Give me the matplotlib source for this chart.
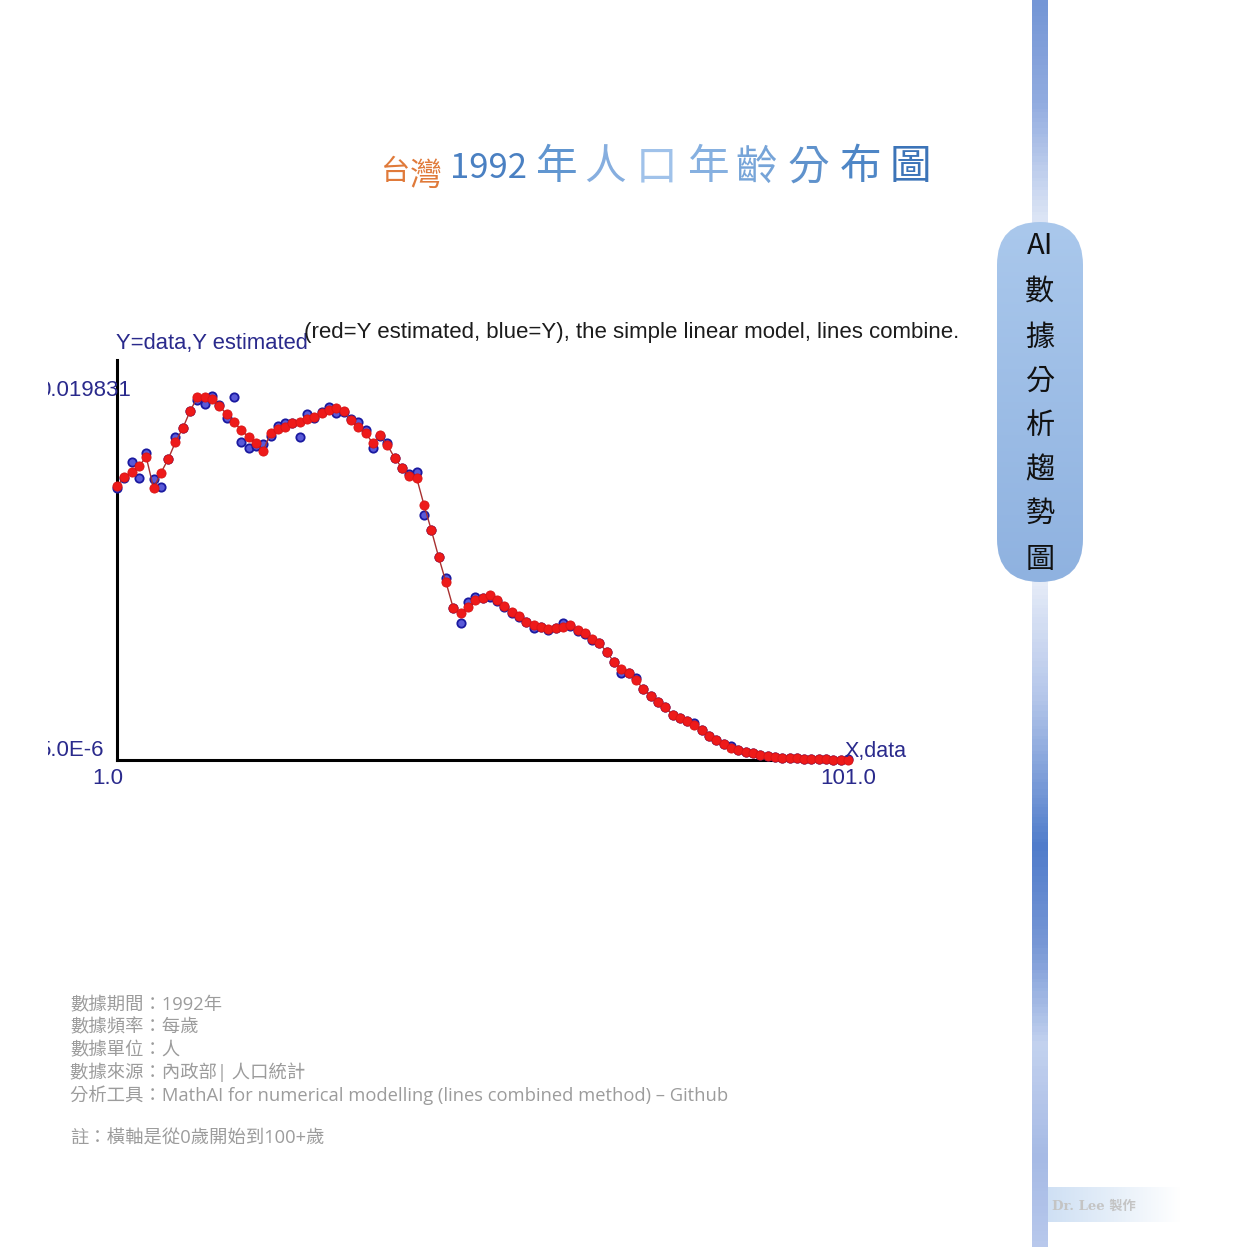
import numpy as np
import matplotlib
matplotlib.use("Agg")
import matplotlib.pyplot as plt
from matplotlib.patches import FancyBboxPatch, Rectangle
from matplotlib.colors import LinearSegmentedColormap

# ---------------- data ----------------
ages = list(range(1, 102))
y_data = [
    0.01486, 0.01540, 0.01628, 0.01540, 0.01677, 0.01535, 0.01491, 0.01644, 0.01764, 0.01813,
    0.01906, 0.01966, 0.01944, 0.01988, 0.01939, 0.01868, 0.01983, 0.01737, 0.01704, 0.01715,
    0.01726, 0.01770, 0.01824, 0.01841, 0.01841, 0.01764, 0.01890, 0.01868, 0.01901, 0.01928,
    0.01895, 0.01901, 0.01862, 0.01846, 0.01802, 0.01704, 0.01770, 0.01731, 0.01649, 0.01595,
    0.01562, 0.01573, 0.01338, 0.01256, 0.01109, 0.00994, 0.00830, 0.00748, 0.00863, 0.00890,
    0.00885, 0.00890, 0.00868, 0.00836, 0.00803, 0.00781, 0.00754, 0.00721, 0.00726, 0.00710,
    0.00721, 0.00748, 0.00732, 0.00705, 0.00688, 0.00655, 0.00639, 0.00590, 0.00535, 0.00475,
    0.00475, 0.00448, 0.00388, 0.00350, 0.00317, 0.00289, 0.00246, 0.00229, 0.00213, 0.00202,
    0.00164, 0.00131, 0.00109, 0.00087, 0.00076, 0.00055, 0.00044, 0.00038, 0.00027, 0.00022,
    0.00016, 0.00014, 0.00011, 0.00009, 0.00008, 0.00006, 0.00005, 0.00004, 0.00003, 0.00002,
    0.00004,
]
y_est = [
    0.01497, 0.01546, 0.01573, 0.01606, 0.01655, 0.01486, 0.01568, 0.01644, 0.01737, 0.01813,
    0.01906, 0.01983, 0.01983, 0.01972, 0.01933, 0.01890, 0.01846, 0.01802, 0.01764, 0.01731,
    0.01688, 0.01786, 0.01808, 0.01819, 0.01841, 0.01846, 0.01862, 0.01873, 0.01895, 0.01912,
    0.01923, 0.01906, 0.01857, 0.01819, 0.01786, 0.01731, 0.01775, 0.01720, 0.01649, 0.01595,
    0.01551, 0.01540, 0.01393, 0.01256, 0.01109, 0.00972, 0.00830, 0.00803, 0.00836, 0.00874,
    0.00885, 0.00901, 0.00874, 0.00841, 0.00808, 0.00786, 0.00754, 0.00737, 0.00726, 0.00715,
    0.00721, 0.00726, 0.00737, 0.00710, 0.00694, 0.00661, 0.00639, 0.00590, 0.00535, 0.00497,
    0.00475, 0.00437, 0.00388, 0.00350, 0.00317, 0.00289, 0.00246, 0.00229, 0.00213, 0.00191,
    0.00164, 0.00131, 0.00109, 0.00087, 0.00066, 0.00055, 0.00044, 0.00038, 0.00027, 0.00022,
    0.00016, 0.00014, 0.00011, 0.00009, 0.00008, 0.00006, 0.00005, 0.00004, 0.00003, 0.00003,
    0.00003,
]
y_min, y_max = 5.0e-6, 0.019831
y_tick_labels = ["5.0E-6", "0.019831"]
x_tick_labels = ["1.0", "101.0"]
y_axis_title = "Y=data,Y estimated"
x_axis_title = "X,data"
chart_note = "(red=Y estimated, blue=Y), the simple linear model, lines combine."

title_pre = "台灣"
title_chars = ["1992", "年", "人", "口", "年", "齡", "分", "布", "圖"]
side_chars = ["AI", "數", "據", "分", "析", "趨", "勢", "圖"]
footer_lines = [
    "數據期間：1992年",
    "數據頻率：每歲",
    "數據單位：人",
    "數據來源：內政部| 人口統計",
    "分析工具：MathAI for numerical modelling (lines combined method) – Github",
]
footer_note = "註：橫軸是從0歲開始到100+歲"
credit = "Dr. Lee 製作"

# ---------------- figure ----------------
plt.rcParams["font.family"] = ["Noto Sans CJK TC", "DejaVu Sans"]
W = H = 1247
fig = plt.figure(figsize=(12.47, 12.47), dpi=100)
fig.patch.set_facecolor("white")


def fx(px):
    return px / W


def fy(py):
    return 1 - py / H


# chart axes: x=1 at px117, x=101 at px848 ; y_min at py760, y_max at py397, top of axis py360
ax = fig.add_axes([fx(117), fy(760), fx(848) - fx(117), fy(360) - fy(760)])
ax.set_xlim(1, 101)
ax.set_ylim(y_min, y_min + (y_max - y_min) * 400 / 363)
for s in ["top", "right"]:
    ax.spines[s].set_visible(False)
for s in ["left", "bottom"]:
    ax.spines[s].set_linewidth(2.2)
    ax.spines[s].set_color("black")
ax.set_xticks([])
ax.set_yticks([])
ax.patch.set_alpha(0)

ax.plot(ages, y_data, "o", ms=6.0, mfc="#5a5ad8", mec="#1a1aa0", mew=1.3,
        clip_on=False, zorder=3)
ax.plot(ages, y_est, "-", color="#a83030", lw=1.0, zorder=4, clip_on=False)
ax.plot(ages, y_est, "o", ms=6.6, mfc="#ee1a1a", mec="#d81414", mew=0.6,
        clip_on=False, zorder=5)

lab_font = ["Liberation Sans", "DejaVu Sans"]
dark_blue = "#2a2a8c"
fig.text(fx(131), fy(391), y_tick_labels[1], ha="right", va="center",
         fontsize=16, color=dark_blue, family=lab_font, zorder=1)
fig.text(fx(104), fy(750), y_tick_labels[0], ha="right", va="center",
         fontsize=16, color=dark_blue, family=lab_font, zorder=1)
fig.text(fx(108), fy(778), x_tick_labels[0], ha="center", va="center",
         fontsize=16, color=dark_blue, family=lab_font)
fig.text(fx(848), fy(778), x_tick_labels[1], ha="center", va="center",
         fontsize=16, color=dark_blue, family=lab_font)
fig.text(fx(845), fy(751), x_axis_title, ha="left", va="center",
         fontsize=15.5, color=dark_blue, family=lab_font)
fig.text(fx(116), fy(343), y_axis_title, ha="left", va="center",
         fontsize=15.8, color=dark_blue, family=lab_font)
fig.text(fx(304), fy(332), chart_note, ha="left", va="center",
         fontsize=16, color="#1c1c1c", family=lab_font)

# white mask: the chart image is cut at its left edge
fig.add_artist(Rectangle((0, fy(800)), fx(48), fy(370) - fy(800),
                         transform=fig.transFigure, facecolor="white",
                         edgecolor="none", zorder=10))

# ---------------- title ----------------
title_font = ["Noto Sans CJK TC", "DejaVu Sans"]
fig.text(fx(380), fy(172), title_pre[0], ha="left", va="center", fontsize=21,
         color="#e07a3a", family=title_font)
fig.text(fx(410), fy(176), title_pre[1], ha="left", va="center", fontsize=23,
         color="#e07a3a", family=title_font)
title_x = [450, 536, 584, 636, 688, 735, 788, 840, 890]
title_size = [25, 30, 30, 30, 30, 30, 30, 30, 30]
title_colors = ["#4a80c2", "#6196d0", "#86aedf", "#a0c2ea", "#86b0e0",
                "#76a4d8", "#5f92cc", "#4e86c6", "#3c74b8"]
for ch, x, sz, c in zip(title_chars, title_x, title_size, title_colors):
    fig.text(fx(x), fy(168), ch, ha="left", va="center", fontsize=sz,
             color=c, family=title_font)

# ---------------- overlay in pixel coords ----------------
ov = fig.add_axes([0, 0, 1, 1], zorder=20)
ov.set_xlim(0, W)
ov.set_ylim(H, 0)
ov.axis("off")
ov.patch.set_alpha(0)

# vertical gradient bar
bar_cmap = LinearSegmentedColormap.from_list("bar", [
    (0.00, "#7496d6"), (0.08, "#92ace0"), (0.17, "#dbe4f5"), (0.45, "#eef2fa"),
    (0.56, "#b4c6ea"), (0.68, "#4f7ccb"), (0.76, "#7898d6"), (0.84, "#c3d2ef"),
    (0.93, "#a6bae5"), (1.00, "#b8c8ec")])
grad = np.linspace(0, 1, 400).reshape(-1, 1)
ov.imshow(grad, cmap=bar_cmap, extent=(1032, 1048, H, 0), aspect="auto",
          origin="upper", zorder=1)

# pill
pill = FancyBboxPatch((997, 222), 86, 360, boxstyle="round,pad=0,rounding_size=43",
                      facecolor="none", edgecolor="none", zorder=2)
ov.add_patch(pill)
pill_cmap = LinearSegmentedColormap.from_list("pill", ["#aac8ec", "#8fb2e0"])
im = ov.imshow(grad, cmap=pill_cmap, extent=(997, 1083, 582, 222), aspect="auto",
               origin="upper", zorder=2)
im.set_clip_path(pill)
side_y = [246, 292, 338, 382, 426, 470, 514, 560]
for ch, y in zip(side_chars, side_y):
    ov.text(1040, y, ch, ha="center", va="center", fontsize=21, color="#111111",
            family=title_font, zorder=3)

# credit band
band_cmap = LinearSegmentedColormap.from_list("band", ["#cfe0f4", "#e6eff9", "#ffffff"])
ov.imshow(np.linspace(0, 1, 200).reshape(1, -1), cmap=band_cmap,
          extent=(1048, 1180, 1222, 1187), aspect="auto", origin="upper", zorder=1)
ov.text(1052, 1206, credit, ha="left", va="center", fontsize=9.5,
        color="#c4c4c4", fontweight="bold",
        family=["DejaVu Serif", "Noto Sans CJK TC"], zorder=3)

# ---------------- footer ----------------
foot_font = ["Open Sans", "Noto Sans CJK TC"]
foot_y = [1005, 1027, 1050, 1072, 1095]
for line, y in zip(footer_lines, foot_y):
    ov.text(70, y, line, ha="left", va="center", fontsize=13.2, color="#9c9c9c",
            family=foot_font)
ov.text(70, 1139, footer_note, ha="left", va="center", fontsize=13.2,
        color="#9c9c9c", family=foot_font)

fig.savefig("out.png", dpi=100)
